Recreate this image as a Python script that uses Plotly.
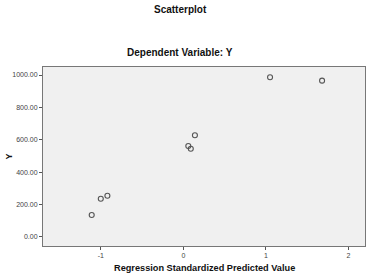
import plotly.graph_objects as go

x_pred = [-1.11, -1.00, -0.92, 0.06, 0.09, 0.14, 1.05, 1.68]
y_vals = [136, 236, 255, 562, 545, 628, 986, 965]
x_ticks = [-1, 0, 1, 2]
y_ticks = [0, 200, 400, 600, 800, 1000]

fig = go.Figure()
fig.add_trace(go.Scatter(
    x=x_pred, y=y_vals, mode="markers",
    marker=dict(symbol="circle-open", size=5, color="#555555", line=dict(width=1.1, color="#555555")),
    showlegend=False, hoverinfo="skip"))

font_main = "Liberation Sans, Arial, sans-serif"
fig.update_layout(
    width=372, height=278,
    margin=dict(l=43, r=7, t=67, b=32),
    paper_bgcolor="white", plot_bgcolor="#f0f0f0",
    font=dict(family=font_main, size=7, color="#333333"),
    xaxis=dict(range=[-1.70, 2.20], tickvals=x_ticks, ticktext=[str(v) for v in x_ticks],
               showgrid=False, zeroline=False, ticks="outside", ticklen=3, tickcolor="#555",
               showline=True, linecolor="#777", linewidth=1, mirror=True,
               tickfont=dict(size=7, color="#444")),
    yaxis=dict(range=[-55.6, 1049.4], tickvals=y_ticks, ticktext=[f"{v:.2f}" for v in y_ticks],
               showgrid=False, zeroline=False, ticks="outside", ticklen=3, tickcolor="#555",
               showline=True, linecolor="#777", linewidth=1, mirror=True,
               tickfont=dict(size=7, color="#444")),
)
ph = 278 - 67 - 32
pw = 372 - 43 - 7
def px_x(p):
    return (p - 43) / pw
def px_y(p):
    return (246 - p) / ph

fig.update_layout(annotations=[
    dict(text="<b>Scatterplot</b>", x=px_x(180), y=px_y(9), xref="paper", yref="paper",
         xanchor="center", yanchor="middle",
         showarrow=False, font=dict(size=10, color="#111", family=font_main)),
    dict(text="<b>Dependent Variable: Y</b>", x=px_x(180), y=px_y(53), xref="paper", yref="paper",
         xanchor="center", yanchor="middle",
         showarrow=False, font=dict(size=10, color="#111", family=font_main)),
    dict(text="<b>Regression Standardized Predicted Value</b>", x=px_x(204), y=px_y(268),
         xref="paper", yref="paper", xanchor="center", yanchor="middle",
         showarrow=False, font=dict(size=9.2, color="#111", family=font_main)),
    dict(text="<b>Y</b>", x=px_x(8), y=0.5, xref="paper", yref="paper", textangle=-90,
         xanchor="center", yanchor="middle",
         showarrow=False, font=dict(size=9, color="#111", family=font_main)),
])

fig.write_html("out.html")
